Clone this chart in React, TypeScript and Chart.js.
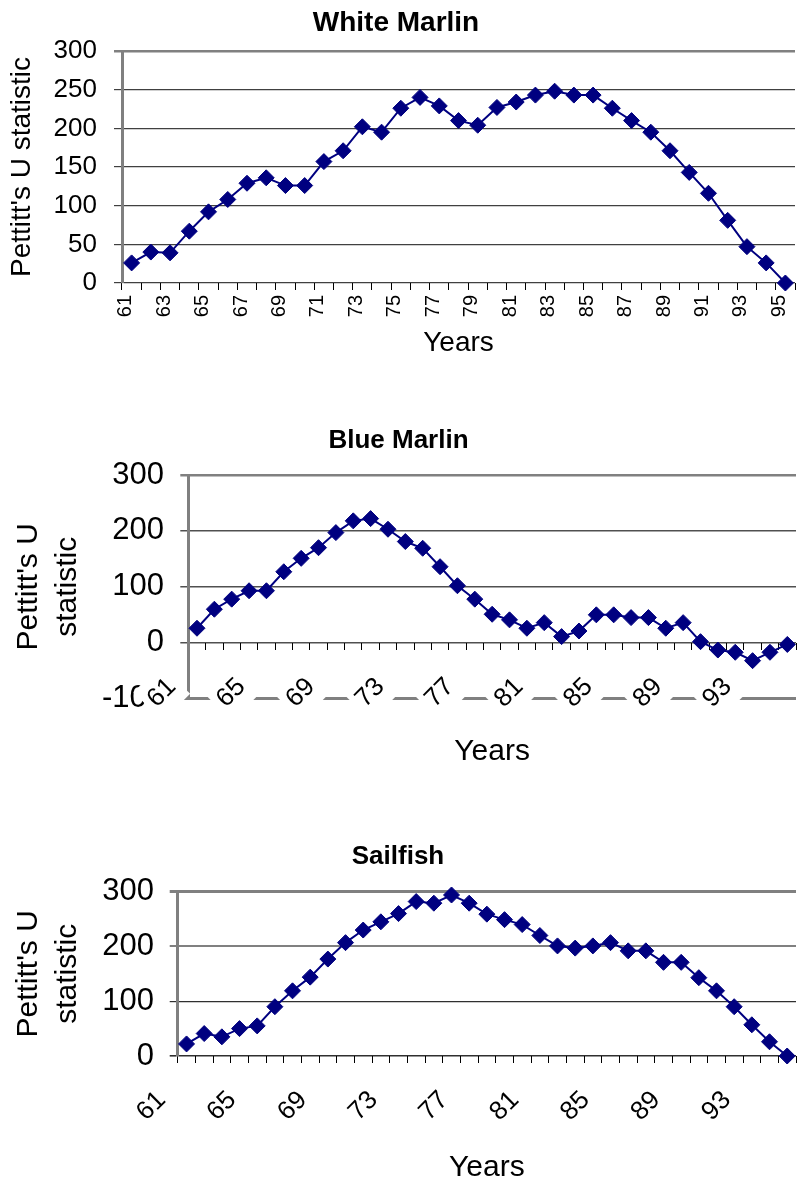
import React, { useEffect, useRef } from 'react';
import { Chart, registerables } from 'chart.js';

Chart.register(...registerables);

// ---------- data ----------
const years = [
  '61', '62', '63', '64', '65', '66', '67', '68', '69', '70', '71', '72',
  '73', '74', '75', '76', '77', '78', '79', '80', '81', '82', '83', '84',
  '85', '86', '87', '88', '89', '90', '91', '92', '93', '94', '95',
];

const whiteMarlin = [
  26, 40, 39, 67, 92, 108, 129, 136, 126, 126, 157, 171, 202, 195, 226, 240,
  229, 210, 204, 227, 234, 243, 248, 243, 243, 226, 210, 195, 171, 143, 116,
  81, 47, 26, 0,
];

const blueMarlin = [
  26, 60, 78, 93, 93, 127, 151, 170, 197, 218, 222, 203, 181, 169, 136, 102,
  78, 51, 41, 26, 36, 11, 21, 50, 50, 45, 45, 26, 36, 2, -13, -17, -32, -17, -3,
];

const sailfish = [
  22, 41, 35, 50, 55, 90, 119, 144, 177, 207, 230, 245, 260, 282, 279, 294,
  279, 259, 249, 240, 220, 201, 197, 201, 207, 192, 192, 171, 171, 143, 119,
  90, 57, 26, 0,
];

const whiteMarlinTicks = ['61', '63', '65', '67', '69', '71', '73', '75', '77', '79', '81', '83', '85', '87', '89', '91', '93', '95'];
const blueMarlinTicks = ['61', '65', '69', '73', '77', '81', '85', '89', '93'];
const sailfishTicks = ['61', '65', '69', '73', '77', '81', '85', '89', '93'];

const titles = ['White Marlin', 'Blue Marlin', 'Sailfish'];
const yTitleSingle = "Pettitt's U statistic";
const yTitleTwoLines = ["Pettitt's U", 'statistic'];
const xTitle = 'Years';

// ---------- style ----------
const FONT = "'Liberation Sans', Arial, Helvetica, sans-serif";
const NAVY = '#000080';

function lineDataset(data: number[]) {
  return {
    data,
    borderColor: NAVY,
    backgroundColor: NAVY,
    borderWidth: 2,
    pointStyle: 'rectRot',
    pointRadius: 8,
    pointHoverRadius: 8,
    pointBorderWidth: 1,
    pointBackgroundColor: NAVY,
    pointBorderColor: NAVY,
    tension: 0,
    clip: false,
  };
}

function tickCallback(shown: string[]) {
  const set = new Set(shown);
  return (_v: any, i: number) => (set.has(years[i]) ? years[i] : '');
}

function backdropFor(shown: string[]) {
  const set = new Set(shown);
  return (ctx: any) => (set.has(years[ctx.index]) ? '#ffffff' : 'rgba(0,0,0,0)');
}

function config1(): any {
  return {
    type: 'line',
    data: { labels: years, datasets: [lineDataset(whiteMarlin)] },
    options: {
      responsive: false,
      animation: false,
      events: [],
      layout: { padding: { left: 0, top: 0, right: 2, bottom: 0 } },
      plugins: {
        legend: { display: false },
        tooltip: { enabled: false },
        title: {
          display: true,
          text: titles[0],
          color: '#000',
          font: { family: FONT, size: 28, weight: 'bold', lineHeight: 1.2 },
          padding: { top: 6.2, bottom: 11.2 },
        },
      },
      scales: {
        y: {
          min: 0,
          max: 300,
          ticks: { stepSize: 50, color: '#000', font: { family: FONT, size: 26 }, padding: 17 },
          grid: {
            color: (c: any) => (c.tick && c.tick.value === 300 ? '#808080' : '#404040'),
            lineWidth: (c: any) => (c.tick && c.tick.value === 300 ? 2.5 : 1.2),
            tickLength: 8,
          },
          border: { color: '#808080', width: 3 },
          title: {
            display: true,
            text: yTitleSingle,
            color: '#000',
            font: { family: FONT, size: 28 },
            padding: { top: 15.2, bottom: 0 },
          },
          afterFit: (s: any) => {
            s.width = 132;
          },
        },
        x: {
          offset: true,
          grid: { offset: true, drawOnChartArea: false, drawTicks: true, tickLength: 7, color: '#000', lineWidth: 1 },
          border: { display: false },
          ticks: {
            autoSkip: false,
            minRotation: 90,
            maxRotation: 90,
            labelOffset: -6,
            padding: 5,
            color: '#000',
            font: { family: FONT, size: 20 },
            callback: tickCallback(whiteMarlinTicks),
          },
          title: {
            display: true,
            text: xTitle,
            color: '#000',
            font: { family: FONT, size: 28 },
            padding: { top: 0, bottom: 20.2 },
          },
          afterFit: (s: any) => {
            s.height = 97;
            s.paddingLeft = 0;
            s.paddingRight = 0;
          },
        },
      },
    },
  };
}

function config2(): any {
  return {
    type: 'line',
    data: { labels: years, datasets: [lineDataset(blueMarlin)] },
    options: {
      responsive: false,
      animation: false,
      events: [],
      layout: { padding: { left: 0, top: 0, right: 2, bottom: 81.3 } },
      plugins: {
        legend: { display: false },
        tooltip: { enabled: false },
        title: {
          display: true,
          text: titles[1],
          color: '#000',
          font: { family: FONT, size: 26, weight: 'bold', lineHeight: 1.2 },
          padding: { top: 15.4, bottom: 18.4 },
        },
      },
      scales: {
        y: {
          min: -100,
          max: 300,
          ticks: { stepSize: 100, color: '#000', font: { family: FONT, size: 31 }, padding: 16.3 },
          grid: {
            color: (c: any) => {
              const v = c.tick ? c.tick.value : 0;
              if (v === 300 || v === -100) return '#808080';
              return '#505050';
            },
            lineWidth: (c: any) => {
              const v = c.tick ? c.tick.value : 0;
              if (v === -100) return 3;
              if (v === 300) return 2.5;
              return 1.5;
            },
            tickLength: 8,
          },
          border: { color: '#808080', width: 3 },
          title: {
            display: true,
            text: yTitleTwoLines,
            color: '#000',
            font: { family: FONT, size: 30, lineHeight: 1.3 },
            padding: { top: 14.9, bottom: 0 },
          },
          afterFit: (s: any) => {
            s.width = 194.3;
          },
        },
        x: {
          position: { y: 0 },
          offset: true,
          grid: { offset: true, drawOnChartArea: false, drawTicks: true, tickLength: 7, color: '#000', lineWidth: 1 },
          border: { display: false },
          ticks: {
            autoSkip: false,
            minRotation: 45,
            maxRotation: 45,
            labelOffset: -36,
            padding: 22,
            z: 1,
            color: '#000',
            font: { family: FONT, size: 26 },
            showLabelBackdrop: true,
            backdropColor: backdropFor(blueMarlinTicks),
            backdropPadding: 5,
            callback: tickCallback(blueMarlinTicks),
          },
          title: {
            display: true,
            text: xTitle,
            color: '#000',
            font: { family: FONT, size: 30 },
            padding: { top: 0, bottom: 2.7 },
          },
          afterFit: (s: any) => {
            s.height = 130;
            s.paddingLeft = 0;
            s.paddingRight = 0;
          },
        },
      },
    },
  };
}

function config3(): any {
  return {
    type: 'line',
    data: { labels: years, datasets: [lineDataset(sailfish)] },
    options: {
      responsive: false,
      animation: false,
      events: [],
      layout: { padding: { left: 0, top: 0, right: 2, bottom: 0 } },
      plugins: {
        legend: { display: false },
        tooltip: { enabled: false },
        title: {
          display: true,
          text: titles[2],
          color: '#000',
          font: { family: FONT, size: 26, weight: 'bold', lineHeight: 1.2 },
          padding: { top: 21.4, bottom: 19.1 },
        },
      },
      scales: {
        y: {
          min: 0,
          max: 300,
          ticks: { stepSize: 100, color: '#000', font: { family: FONT, size: 31 }, padding: 15.7 },
          grid: {
            color: (c: any) => {
              const v = c.tick ? c.tick.value : 0;
              if (v === 300 || v === 200) return '#808080';
              return '#303030';
            },
            lineWidth: (c: any) => {
              const v = c.tick ? c.tick.value : 0;
              if (v === 300) return 3;
              if (v === 200) return 2;
              if (v === 0) return 1.6;
              return 1.2;
            },
            tickLength: 8,
          },
          border: { color: '#808080', width: 3 },
          title: {
            display: true,
            text: yTitleTwoLines,
            color: '#000',
            font: { family: FONT, size: 30, lineHeight: 1.3 },
            padding: { top: 15.9, bottom: 0 },
          },
          afterFit: (s: any) => {
            s.width = 184.7;
          },
        },
        x: {
          offset: true,
          grid: { offset: true, drawOnChartArea: false, drawTicks: true, tickLength: 7, color: '#000', lineWidth: 1 },
          border: { display: false },
          ticks: {
            autoSkip: false,
            minRotation: 45,
            maxRotation: 45,
            labelOffset: -36,
            padding: 22,
            z: 1,
            color: '#000',
            font: { family: FONT, size: 26 },
            showLabelBackdrop: true,
            backdropColor: backdropFor(sailfishTicks),
            backdropPadding: 5,
            callback: tickCallback(sailfishTicks),
          },
          title: {
            display: true,
            text: xTitle,
            color: '#000',
            font: { family: FONT, size: 30 },
            padding: { top: 0, bottom: 4 },
          },
          afterFit: (s: any) => {
            s.height = 134;
            s.paddingLeft = 0;
            s.paddingRight = 0;
          },
        },
      },
    },
  };
}

type BoxProps = { make: () => any; left: number; top: number; width: number; height: number };

function ChartBox({ make, left, top, width, height }: BoxProps) {
  const ref = useRef<HTMLCanvasElement>(null);
  useEffect(() => {
    const chart = new Chart(ref.current as HTMLCanvasElement, make());
    return () => chart.destroy();
  }, []);
  return (
    <canvas
      ref={ref}
      width={width}
      height={height}
      style={{ position: 'absolute', left, top, width, height, display: 'block' }}
    />
  );
}

export default function App() {
  return (
    <div
      style={{
        position: 'absolute',
        left: 0,
        top: 0,
        width: 798,
        height: 1183,
        overflow: 'hidden',
        background: '#fff',
      }}
    >
      <ChartBox make={config1} left={-10} top={0} width={814} height={380} />
      <ChartBox make={config2} left={-6} top={410} width={811} height={370} />
      <ChartBox make={config3} left={-7} top={820} width={812} height={370} />
    </div>
  );
}
